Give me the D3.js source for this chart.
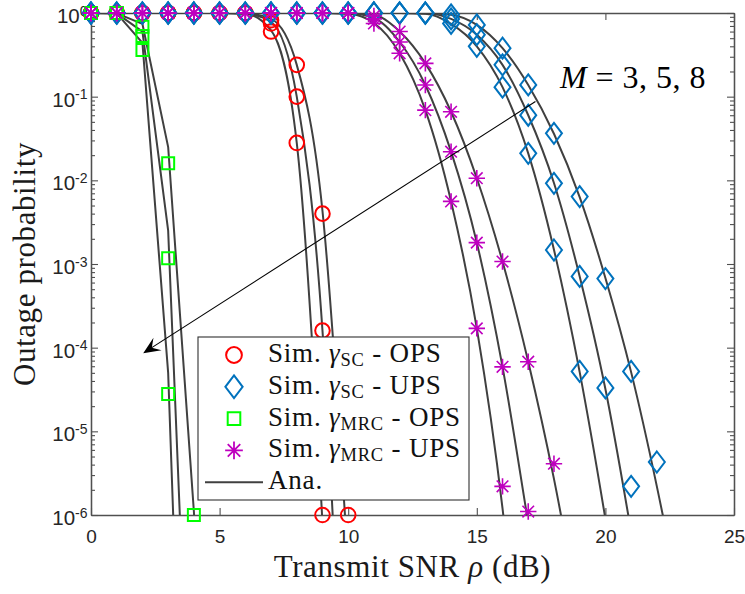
<!DOCTYPE html>
<html><head><meta charset="utf-8">
<script src="https://cdn.jsdelivr.net/npm/d3@7"></script>
<style>body{margin:0;background:#fff}svg{display:block}</style>
</head><body>
<svg id="chart" width="745" height="594"></svg>
<script>
// ---------------- DATA ----------------
const snr = [0,1,2,3,4,5,6,7,8,9,10,11,12,13,14,15,16,17,18,19,20,21,22,23,24,25];
const xTicks = [0,5,10,15,20,25];
const yTicks = [1e-6,1e-5,1e-4,1e-3,1e-2,1e-1,1];
const seriesM = ["3","5","8"];

// Simulation points (index = position in snr)
const simScOpsM3 = [1,1,1,1,1,1,1,0.82,0.24,4.0e-3,1.0e-6];
const simScOpsM5 = [1,1,1,1,1,1,1,0.75,0.10,1.6e-4];
const simScOpsM8 = [1,1,1,1,1,1,1,0.60,0.028,1.0e-6];
const simScUpsM3 = [1,1,1,1,1,1,1,1,1,1,1,1,1,1,0.95,0.72,0.38,0.138,0.0365,6.4e-3,6.7e-4,5.2e-5,4.3e-6];
const simScUpsM5 = [1,1,1,1,1,1,1,1,1,1,1,1,1,1,0.85,0.55,0.24,0.06,9.2e-3,7.1e-4,3.3e-5,2.2e-6];
const simScUpsM8 = [1,1,1,1,1,1,1,1,1,1,1,1,1,1,0.75,0.40,0.13,0.021,1.47e-3,5.2e-5];
const simMrcOpsM3 = [1,1,0.686,0.016,1.0e-6];
const simMrcOpsM5 = [1,1,0.53,1.17e-3];
const simMrcOpsM8 = [1,1,0.36,2.8e-5];
const simMrcUpsM3 = [1,1,1,1,1,1,1,1,1,1,1,0.92,0.60,0.25,0.066,0.0106,1.07e-3,6.8e-5,4.1e-6];
const simMrcUpsM5 = [1,1,1,1,1,1,1,1,1,1,1,0.85,0.45,0.138,0.022,1.8e-3,5.9e-5,1.1e-6];
const simMrcUpsM8 = [1,1,1,1,1,1,1,1,1,1,1,0.75,0.33,0.069,5.6e-3,1.7e-4,2.2e-6];

// Analytical curves (index = position in snr)
const anaScOpsM3 = [1,1,1,1,1,1,0.99,0.85,0.24,4.3e-3,2.5e-7,1e-12];
const anaScOpsM5 = [1,1,1,1,1,1,0.985,0.78,0.10,1.6e-4,1e-10,1e-17];
const anaScOpsM8 = [1,1,1,1,1,1,0.98,0.62,0.028,8e-7,1e-13];
const anaScUpsM3 = [1,1,1,1,1,1,1,1,1,1,1,1,1,0.995,0.95,0.72,0.38,0.138,0.036,6.3e-3,6.8e-4,5.1e-5,2.2e-6,6e-8,1e-9];
const anaScUpsM5 = [1,1,1,1,1,1,1,1,1,1,1,1,1,0.99,0.85,0.55,0.24,0.06,9.3e-3,7.1e-4,3.2e-5,6.3e-7,8e-9,1e-11];
const anaScUpsM8 = [1,1,1,1,1,1,1,1,1,1,1,1,1,0.98,0.74,0.40,0.13,0.021,1.48e-3,5.1e-5,9e-7,1e-8,1e-11];
const anaMrcOpsM3 = [1,0.99,0.74,0.025,1.1e-6,1e-11];
const anaMrcOpsM5 = [1,0.99,0.60,2.5e-3,8e-11];
const anaMrcOpsM8 = [1,0.99,0.44,5e-5,1e-13];
const anaMrcUpsM3 = [1,1,1,1,1,1,1,1,1,1,0.995,0.95,0.60,0.25,0.066,0.0106,1.07e-3,6.8e-5,2.7e-6,6e-8,1e-9];
const anaMrcUpsM5 = [1,1,1,1,1,1,1,1,1,1,0.99,0.87,0.45,0.138,0.022,1.8e-3,5.9e-5,8e-7,1e-8,1e-10];
const anaMrcUpsM8 = [1,1,1,1,1,1,1,1,1,1,0.98,0.76,0.33,0.069,5.6e-3,1.7e-4,1.2e-6,1e-9];

const legendSub = ["SC","SC","MRC","MRC"];
const legendSuffix = [" - OPS"," - UPS"," - OPS"," - UPS"];
const legendAna = "Ana.";
const xLabel = "Transmit SNR ";
const yLabel = "Outage probability";
const annotText = " = 3, 5, 8";

// ---------------- LAYOUT ----------------
const W = 745, H = 594;
const L = 91, R = 734, T = 13, B = 515;
const x = d3.scaleLinear().domain([0,25]).range([L,R]);
const y = d3.scaleLog().domain([1e-6,1]).range([B,T]);

const svg = d3.select("#chart");
svg.append("rect").attr("width",W).attr("height",H).attr("fill","#fff");
svg.append("defs").append("clipPath").attr("id","clip")
  .append("rect").attr("x",L).attr("y",T).attr("width",R-L).attr("height",B-T);

const axisColor = "#505050";
const textColor = "#262626";
const sans = "'Liberation Sans', Arial, Helvetica, sans-serif";
const serif = "'Liberation Serif', 'Times New Roman', serif";

function styleAxis(g){
  g.select(".domain").attr("stroke",axisColor).attr("stroke-width",1.3);
  g.selectAll(".tick line").attr("stroke",axisColor).attr("stroke-width",1.1);
  g.attr("font-family",sans).attr("font-size",19);
  g.selectAll(".tick text").attr("fill",textColor);
}
const minor = [];
yTicks.slice(0,-1).forEach(d=>{ for(let k=2;k<=9;k++) minor.push(d*k); });

// bottom
svg.append("g").attr("transform",`translate(0,${B})`)
  .call(d3.axisBottom(x).tickValues(xTicks).tickSizeInner(-7).tickSizeOuter(0).tickPadding(15).tickFormat(d3.format("d")))
  .call(styleAxis);
// top
svg.append("g").attr("transform",`translate(0,${T})`)
  .call(d3.axisTop(x).tickValues(xTicks).tickSizeInner(-7).tickSizeOuter(0).tickFormat(""))
  .call(styleAxis);
// left major + minor
svg.append("g").attr("transform",`translate(${L},0)`)
  .call(d3.axisLeft(y).tickValues(yTicks).tickSizeInner(-7).tickSizeOuter(0).tickFormat(""))
  .call(styleAxis);
svg.append("g").attr("transform",`translate(${L},0)`)
  .call(d3.axisLeft(y).tickValues(minor).tickSizeInner(-4).tickSizeOuter(0).tickFormat(""))
  .call(styleAxis);
// right major + minor
svg.append("g").attr("transform",`translate(${R},0)`)
  .call(d3.axisRight(y).tickValues(yTicks).tickSizeInner(-7).tickSizeOuter(0).tickFormat(""))
  .call(styleAxis);
svg.append("g").attr("transform",`translate(${R},0)`)
  .call(d3.axisRight(y).tickValues(minor).tickSizeInner(-4).tickSizeOuter(0).tickFormat(""))
  .call(styleAxis);

// y tick labels 10^k
yTicks.forEach(v=>{
  const e = Math.round(Math.log10(v));
  const t = svg.append("text").attr("x",L-3.5).attr("y",y(v)+10)
    .attr("text-anchor","end").attr("font-family",sans).attr("fill",textColor);
  t.append("tspan").attr("font-size",20.5).text("10");
  t.append("tspan").attr("font-size",14).attr("dy",-7.5).text(String(e));
});

// axis titles
const xl = svg.append("text").attr("x",(L+R)/2).attr("y",577).attr("text-anchor","middle")
  .attr("font-family",serif).attr("font-size",31).attr("letter-spacing",0.6).attr("fill","#1a1a1a");
xl.append("tspan").text(xLabel);
xl.append("tspan").attr("font-style","italic").text("ρ");
xl.append("tspan").text(" (dB)");
svg.append("text").attr("transform",`translate(35,${(T+B)/2}) rotate(-90)`).attr("text-anchor","middle")
  .attr("font-family",serif).attr("font-size",31).attr("letter-spacing",0.6).attr("fill","#1a1a1a").text(yLabel);

// ---------------- CURVES ----------------
const anaSets = [
  {d:anaScOpsM3,c:d3.curveMonotoneX},{d:anaScOpsM5,c:d3.curveMonotoneX},{d:anaScOpsM8,c:d3.curveMonotoneX},
  {d:anaScUpsM3,c:d3.curveMonotoneX},{d:anaScUpsM5,c:d3.curveMonotoneX},{d:anaScUpsM8,c:d3.curveMonotoneX},
  {d:anaMrcOpsM3,c:d3.curveLinear},{d:anaMrcOpsM5,c:d3.curveLinear},{d:anaMrcOpsM8,c:d3.curveLinear},
  {d:anaMrcUpsM3,c:d3.curveMonotoneX},{d:anaMrcUpsM5,c:d3.curveMonotoneX},{d:anaMrcUpsM8,c:d3.curveMonotoneX}
];
const gLines = svg.append("g").attr("clip-path","url(#clip)");
anaSets.forEach(s=>{
  const pts = s.d.map((v,i)=>[snr[i],v]);
  gLines.append("path").attr("fill","none").attr("stroke","#404040").attr("stroke-width",2)
    .attr("d", d3.line().x(p=>x(p[0])).y(p=>y(p[1])).curve(s.c)(pts));
});

// ---------------- MARKERS ----------------
const colors = {circle:"#FF0000", diamond:"#0072BD", square:"#00FF00", star:"#BF00BF"};
function markerPath(type,cx,cy,s){
  s = s||1;
  if(type==="circle"){ const r=7.3*s; return `M${cx-r},${cy}a${r},${r} 0 1,0 ${2*r},0a${r},${r} 0 1,0 ${-2*r},0Z`; }
  if(type==="diamond"){ const w=8*s,h=10.5*s; return `M${cx},${cy-h}L${cx+w},${cy}L${cx},${cy+h}L${cx-w},${cy}Z`; }
  if(type==="square"){ const a=6*s; return `M${cx-a},${cy-a}H${cx+a}V${cy+a}H${cx-a}Z`; }
  const r=8.2*s, q=r*0.7071;
  return `M${cx-r},${cy}H${cx+r}M${cx},${cy-r}V${cy+r}M${cx-q},${cy-q}L${cx+q},${cy+q}M${cx-q},${cy+q}L${cx+q},${cy-q}`;
}
const simSets = [
  {type:"circle", arr:[simScOpsM3,simScOpsM5,simScOpsM8]},
  {type:"diamond",arr:[simScUpsM3,simScUpsM5,simScUpsM8]},
  {type:"square", arr:[simMrcOpsM3,simMrcOpsM5,simMrcOpsM8]},
  {type:"star",   arr:[simMrcUpsM3,simMrcUpsM5,simMrcUpsM8]}
];
const gMk = svg.append("g");
simSets.forEach(s=>{
  s.arr.forEach(a=>{
    a.forEach((v,i)=>{
      if(v==null) return;
      gMk.append("path").attr("d",markerPath(s.type,x(snr[i]),y(v)))
        .attr("fill","none").attr("stroke",colors[s.type]).attr("stroke-width",s.type==="star"?1.6:2);
    });
  });
});

// ---------------- ANNOTATION ----------------
const arrowFrom = [17.28, 0.0874], arrowTo = [2.03, 8.6e-5];
const ax1=x(arrowFrom[0]), ay1=y(arrowFrom[1]), ax2=x(arrowTo[0]), ay2=y(arrowTo[1]);
const ang = Math.atan2(ay2-ay1, ax2-ax1);
const hl=17, hw=7.5;
const ux=Math.cos(ang), uy=Math.sin(ang);
const bx=ax2-ux*hl, by=ay2-uy*hl;
svg.append("line").attr("x1",ax1).attr("y1",ay1).attr("x2",ax2-ux*6).attr("y2",ay2-uy*6)
  .attr("stroke","#000").attr("stroke-width",1.1);
svg.append("path").attr("d",`M${ax2},${ay2}L${bx-uy*hw},${by+ux*hw}L${ax2-ux*hl*0.6},${ay2-uy*hl*0.6}L${bx+uy*hw},${by-ux*hw}Z`)
  .attr("fill","#000");
const annotPos = [18.23, 0.127];
const at = svg.append("text").attr("x",x(annotPos[0])).attr("y",y(annotPos[1]))
  .attr("font-family",serif).attr("font-size",32).attr("letter-spacing",0.5).attr("fill","#000");
at.append("tspan").attr("font-style","italic").text("M");
at.append("tspan").attr("xml:space","preserve").text(annotText);

// ---------------- LEGEND ----------------
const lg = svg.append("g");
const lx=198, ly=337, lw=271, lh=163, rowH=31.8, row0=355;
lg.append("rect").attr("x",lx).attr("y",ly).attr("width",lw).attr("height",lh)
  .attr("fill","#fff").attr("stroke","#303030").attr("stroke-width",1.1);
simSets.forEach((s,i)=>{
  const cy=row0+i*rowH;
  lg.append("path").attr("d",markerPath(s.type,234,cy,s.type==="square"?1.05:1.08))
    .attr("fill","none").attr("stroke",colors[s.type]).attr("stroke-width",s.type==="star"?1.8:2);
  const t=lg.append("text").attr("x",268).attr("y",cy+7).attr("font-family",serif)
    .attr("font-size",27).attr("letter-spacing",0.8).attr("fill","#111");
  t.append("tspan").attr("xml:space","preserve").text("Sim. ");
  t.append("tspan").attr("font-style","italic").text("γ");
  t.append("tspan").attr("font-size",18.5).attr("dy",4).text(legendSub[i]);
  t.append("tspan").attr("dy",-4).attr("xml:space","preserve").text(legendSuffix[i]);
});
const cyA=row0+4*rowH;
lg.append("line").attr("x1",205).attr("x2",263).attr("y1",cyA).attr("y2",cyA)
  .attr("stroke","#404040").attr("stroke-width",2);
lg.append("text").attr("x",268).attr("y",cyA+7).attr("font-family",serif).attr("font-size",27)
  .attr("letter-spacing",0.8).attr("fill","#111").text(legendAna);
</script>
</body></html>
